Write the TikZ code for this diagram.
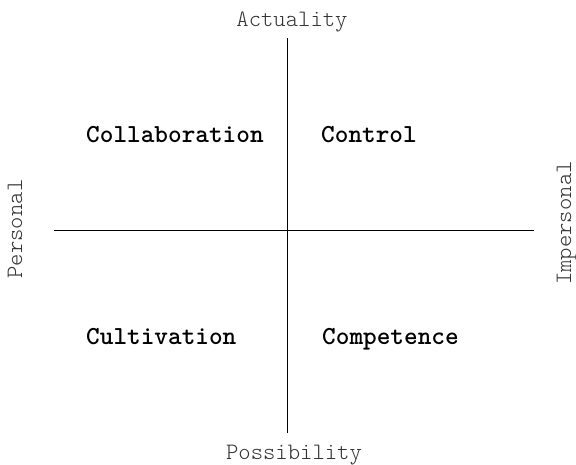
\documentclass[tikz,border=0pt]{standalone}
\usepackage{fontspec}
\newfontfamily\axisfont{lmmonolt10-regular.otf}
\newfontfamily\quadfont{lmmonolt10-bold.otf}
\begin{document}
\begin{tikzpicture}[x=1pt,y=-1pt,
  axislabel/.style={inner sep=0pt,font=\axisfont\fontsize{23.5}{28}\selectfont,text=black!80},
  quadlabel/.style={inner sep=0pt,anchor=base west,font=\quadfont\fontsize{26}{30}\selectfont},
  axisline/.style={line width=1pt}]
\useasboundingbox (0,0) rectangle (576,465);
\coordinate (top) at (287,38);
\coordinate (bot) at (287,433);
\coordinate (lft) at (54,231);
\coordinate (rgt) at (534,231);
\draw[axisline] (top) -- (bot);
\draw[axisline] (lft) -- (rgt);
\node[axislabel,anchor=base] (act) at (292,27) {Actuality};
\node[axislabel,anchor=base] (pos) at (294,459) {Possibility};
\node[axislabel,anchor=base,rotate=90] (per) at (22,229) {Personal};
\node[axislabel,anchor=base,rotate=90] (imp) at (571,223) {Impersonal};
\node[quadlabel] (col) at (86,143) {Collaboration};
\node[quadlabel] (con) at (321,143) {Control};
\node[quadlabel] (cul) at (86,344) {Cultivation};
\node[quadlabel] (com) at (322,344) {Competence};
\end{tikzpicture}
\end{document}
